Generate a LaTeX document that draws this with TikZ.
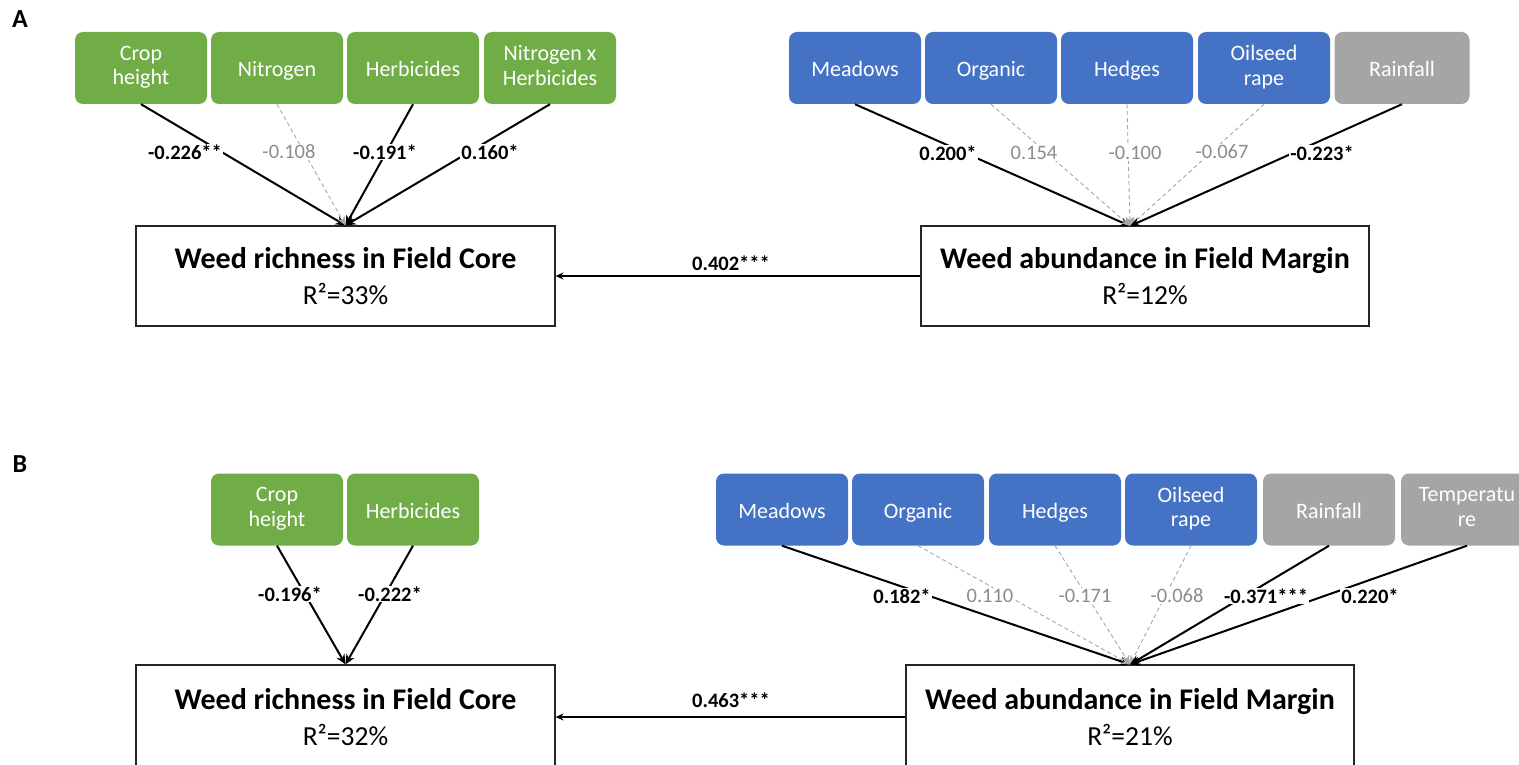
\documentclass[tikz,border=0pt]{standalone}
\usepackage{fontspec}
\setmainfont{Carlito}
\usetikzlibrary{arrows.meta}
\definecolor{cgreen}{HTML}{70AD47}
\definecolor{cblue}{HTML}{4472C4}
\definecolor{cgray}{HTML}{A5A5A5}
\definecolor{nsline}{HTML}{A6A6A6}
\definecolor{nstext}{HTML}{8C8C8C}
\newcommand\boxfont{\fontsize{22}{24.5}\selectfont}
\newcommand\titlefont{\fontsize{30}{36}\selectfont\bfseries}
\newcommand\rfont{\fontsize{27.5}{36}\selectfont}
\newcommand\coeffont{\fontsize{20.5}{22}\selectfont}
\tikzset{
  factor/.style={rounded corners=8pt, minimum width=132pt, minimum height=72pt,
    text=white, align=center, font=\boxfont, inner sep=0pt,
    execute at begin node={\rule{0pt}{22pt}}, execute at end node={\rule[-5pt]{0pt}{5pt}}},
  gbox/.style={factor, fill=cgreen},
  bbox/.style={factor, fill=cblue},
  ybox/.style={factor, fill=cgray},
  resp/.style={draw=black!85, line width=1.1pt, minimum width=419pt, minimum height=100pt,
    align=center, inner sep=0pt, font=\fontsize{27}{36}\selectfont},
  sig/.style={draw=black, line width=2pt, -{Stealth[length=10pt,width=9pt]}},
  ns/.style={draw=nsline, line width=0.9pt, dash pattern=on 4pt off 3pt, -{Stealth[length=9pt,width=8pt]}},
  link/.style={draw=black, line width=2pt, -{Stealth[length=8pt,width=7pt]}},
  coef/.style={font=\coeffont\bfseries, fill=white, inner sep=1pt},
  nscoef/.style={font=\coeffont, text=nstext, fill=white, inner sep=1pt},
  panel/.style={font=\fontsize{26}{28}\selectfont\bfseries}
}
\begin{document}
\begin{tikzpicture}[x=1pt,y=-1pt]
\useasboundingbox (0,0) rectangle (1519,765);

% ---------------- Panel A ----------------
\node[panel] (labA) at (20,19) {A};
\node[gbox] (chA)  at (141,68) {Crop\\height};
\node[gbox] (niA)  at (277,68) {Nitrogen};
\node[gbox] (heA)  at (413,68) {Herbicides};
\node[gbox] (nhA)  at (550,68) {Nitrogen x\\Herbicides};

\node[bbox] (meA) at (855,68) {Meadows};
\node[bbox] (orA) at (991,68) {Organic};
\node[bbox] (hgA) at (1127,68) {Hedges};
\node[bbox] (osA) at (1264,68) {Oilseed\\rape};
\node[ybox, minimum width=135pt] (raA) at (1402,68) {Rainfall};

\node[resp] (richA) at (345.5,276) {{\titlefont Weed richness in Field Core}\\{\rfont R²=33\%}};
\node[resp, minimum width=448pt] (abA) at (1145,276) {{\titlefont Weed abundance in Field Margin}\\{\rfont R²=12\%}};
\coordinate (tA) at (1130,226);

\draw[sig] (chA.south) -- (richA.north);
\draw[ns]  (niA.south) -- (richA.north);
\draw[sig] (heA.south) -- (richA.north);
\draw[sig] (nhA.south) -- (richA.north);

\draw[sig] (meA.south) -- (tA);
\draw[ns]  (orA.south) -- (tA);
\draw[ns]  (hgA.south) -- (tA);
\draw[ns]  (osA.south) -- (tA);
\draw[sig] (raA.south) -- (tA);

\node[coef]   (c1) at (185,152) {-0.226**};
\node[nscoef] (c2) at (289,152) {-0.108};
\node[coef]   (c3) at (385,152) {-0.191*};
\node[coef]   (c4) at (490,152) {0.160*};

\node[coef]   (c5) at (948,153) {0.200*};
\node[nscoef] (c6) at (1034,153) {0.154};
\node[nscoef] (c7) at (1135,153) {-0.100};
\node[nscoef] (c8) at (1222,152) {-0.067};
\node[coef]   (c9) at (1322,153) {-0.223*};

\draw[link] (abA.west) -- (richA.east);
\node[font=\coeffont\bfseries] (lA) at (731,263) {0.402***};

% ---------------- Panel B ----------------
\node[panel] (labB) at (20,464) {B};
\node[gbox] (chB) at (277,509.5) {Crop\\height};
\node[gbox] (heB) at (413,509.5) {Herbicides};

\node[bbox] (meB) at (782,509.5) {Meadows};
\node[bbox] (orB) at (918,509.5) {Organic};
\node[bbox] (hgB) at (1055,509.5) {Hedges};
\node[bbox] (osB) at (1191,509.5) {Oilseed\\rape};
\node[ybox] (raB) at (1329,509.5) {Rainfall};
\node[ybox] (teB) at (1467,509.5) {Temperatu\\re};

\node[resp, minimum height=104pt] (richB) at (345.5,717) {{\titlefont Weed richness in Field Core}\\{\rfont R²=32\%}};
\node[resp, minimum width=448pt, minimum height=104pt] (abB) at (1130,717) {{\titlefont Weed abundance in Field Margin}\\{\rfont R²=21\%}};

\draw[sig] (chB.south) -- (richB.north);
\draw[sig] (heB.south) -- (richB.north);

\draw[sig] (meB.south) -- (abB.north);
\draw[ns]  (orB.south) -- (abB.north);
\draw[ns]  (hgB.south) -- (abB.north);
\draw[ns]  (osB.south) -- (abB.north);
\draw[sig] (raB.south) -- (abB.north);
\draw[sig] (teB.south) -- (abB.north);

\node[coef] (d1) at (290,594) {-0.196*};
\node[coef] (d2) at (390,594) {-0.222*};

\node[coef]   (d3) at (902,596) {0.182*};
\node[nscoef] (d4) at (990,596) {0.110};
\node[nscoef] (d5) at (1085,596) {-0.171};
\node[nscoef] (d6) at (1177,596) {-0.068};
\node[coef]   (d7) at (1266,596) {-0.371***};
\node[coef]   (d8) at (1370,596) {0.220*};

\draw[link] (abB.west) -- (richB.east);
\node[font=\coeffont\bfseries] (lB) at (731,700) {0.463***};
\end{tikzpicture}
\end{document}
